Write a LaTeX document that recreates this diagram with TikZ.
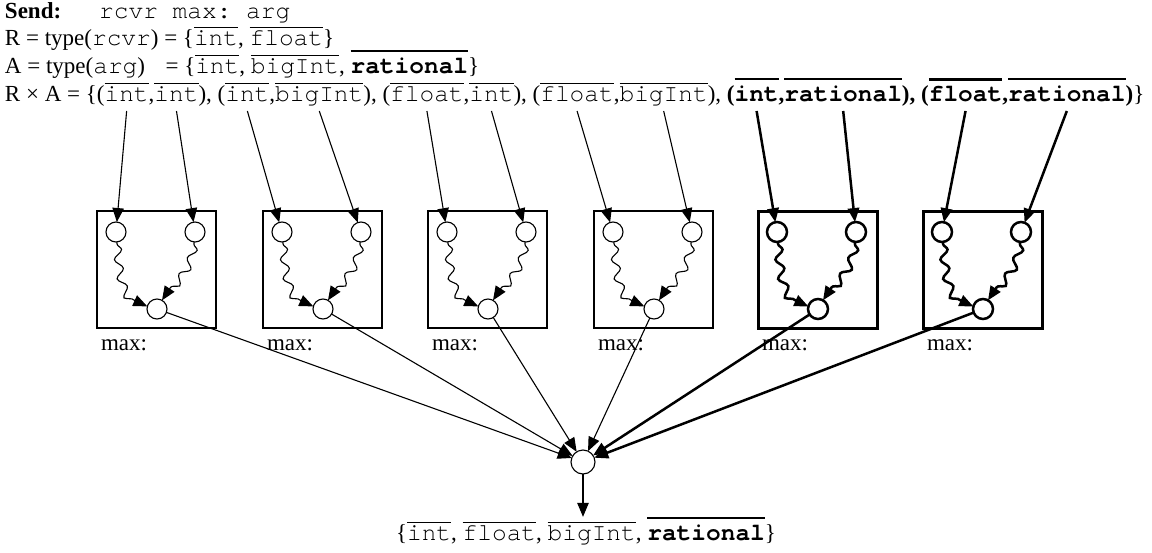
\documentclass[tikz,border=0pt]{standalone}
\usepackage{fontspec}
\setmainfont{Liberation Serif}
\setmonofont[Scale=1.065, Ligatures=NoCommon]{TeX Gyre Cursor}
\usetikzlibrary{arrows.meta,decorations.pathmorphing,positioning}

% type names: plain ones with a thin bar, the bold one with a heavy, raised bar
\newcommand\ov[1]{\vbox{\hrule height 1pt\kern 1.8pt\hbox{\ttfamily\vphantom{l}#1}}}
\newcommand\ovb[1]{\vbox{\hrule height 2.5pt\kern 5pt\hbox{\ttfamily\bfseries\vphantom{l}#1}}}
% next piece of a text line, set on the same baseline
\newcommand\nxt[3]{\node[base right=0pt of #1] (#2) {#3};}

\begin{document}
\begin{tikzpicture}[x=1pt, y=1pt,
  every node/.style={font=\fontsize{23}{28}\selectfont, inner sep=0pt, outer sep=0pt},
  arrowhd/.style={-{Triangle[length=14pt,width=11.5pt]}},
  ring/.style={circle, draw, fill=white, minimum size=20pt},
  cellbox/.style={draw, minimum width=119pt, minimum height=117pt},
  wavy/.style={decorate, decoration={snake, amplitude=4pt, segment length=19pt, pre length=2pt, post length=12pt}}]
\useasboundingbox (0,0) rectangle (1152,-552);

% header lines
\node[anchor=base west] (l1) at (5,-18) {\textbf{Send:}\hspace{38pt}\texttt{rcvr max: arg}};
\node[anchor=base west] (l2) at (5,-45) {R = type(\texttt{rcvr}) = \{\ov{int}, \ov{float}\}};
\node[anchor=base west] (l3) at (5,-73) {A = type(\texttt{arg})\phantom{\texttt{r}} = \{\ov{int}, \ov{bigInt}, \ovb{rational}\}};

% the product line, one node per type name
\node[anchor=base west] (p0) at (5,-101) {R × A = \{(};
\nxt{p0}{w1}{\ov{int}}
\nxt{w1}{p1}{,}
\nxt{p1}{w2}{\ov{int}}
\nxt{w2}{p2}{), (}
\nxt{p2}{w3}{\ov{int}}
\nxt{w3}{p3}{,}
\nxt{p3}{w4}{\ov{bigInt}}
\nxt{w4}{p4}{), (}
\nxt{p4}{w5}{\ov{float}}
\nxt{w5}{p5}{,}
\nxt{p5}{w6}{\ov{int}}
\nxt{w6}{p6}{), (}
\nxt{p6}{w7}{\ov{float}}
\nxt{w7}{p7}{,}
\nxt{p7}{w8}{\ov{bigInt}}
\nxt{w8}{p8}{), \textbf{(}}
\nxt{p8}{w9}{\ovb{int}}
\nxt{w9}{p9}{\textbf{,}}
\nxt{p9}{w10}{\ovb{rational}}
\nxt{w10}{p10}{\textbf{), (}}
\nxt{p10}{w11}{\ovb{float}}
\nxt{w11}{p11}{\textbf{,}}
\nxt{p11}{w12}{\ovb{rational}}
\nxt{w12}{p12}{\textbf{)}\}}

% one method body per receiver/argument pair
\foreach \i/\bx/\fw/\lw in {1/97/1.4/1.1, 2/263/1.4/1.1, 3/428/1.4/1.1, 4/594/1.4/1.1, 5/758/3/2.5, 6/923/3/2.5} {
  \node[cellbox, line width=\fw pt] (b\i) at (\bx+59.5,-269.5) {};
  \node[ring, line width=\lw pt] (tl\i) at (\bx+19,-232) {};
  \node[ring, line width=\lw pt] (tr\i) at (\bx+98,-232) {};
  \node[ring, line width=\lw pt] (bt\i) at (\bx+60,-309) {};
  \node[anchor=base west] (m\i) at (\bx+4,-350) {max:};
  \draw[arrowhd, wavy, line width=\lw pt] (tl\i) to[out=-85, in=165] (bt\i);
  \draw[arrowhd, wavy, line width=\lw pt] (tr\i) to[out=-95, in=60] (bt\i);
}

% argument types flowing into the bodies
\foreach \i/\a/\b/\lw in {1/1/2/1.1, 2/3/4/1.1, 3/5/6/1.1, 4/7/8/1.1, 5/9/10/2.5, 6/11/12/2.5} {
  \draw[arrowhd, line width=\lw pt] ([yshift=-10pt]w\a.base) -- (tl\i);
  \draw[arrowhd, line width=\lw pt] ([yshift=-10pt]w\b.base) -- (tr\i);
}

% result types merged
\node[ring, minimum size=24pt, line width=1.1pt] (hub) at (583,-462) {};
\foreach \i/\lw in {1/1.1, 2/1.1, 3/1.1, 4/1.1, 5/2.5, 6/2.5} {
  \draw[arrowhd, line width=\lw pt] (bt\i) -- (hub);
}
\node[anchor=base] (res) at (586,-540) {\{\ov{int}, \ov{float}, \ov{bigInt}, \ovb{rational}\}};
\draw[arrowhd, line width=1.1pt] (hub) -- (hub |- res.north);
\end{tikzpicture}
\end{document}
